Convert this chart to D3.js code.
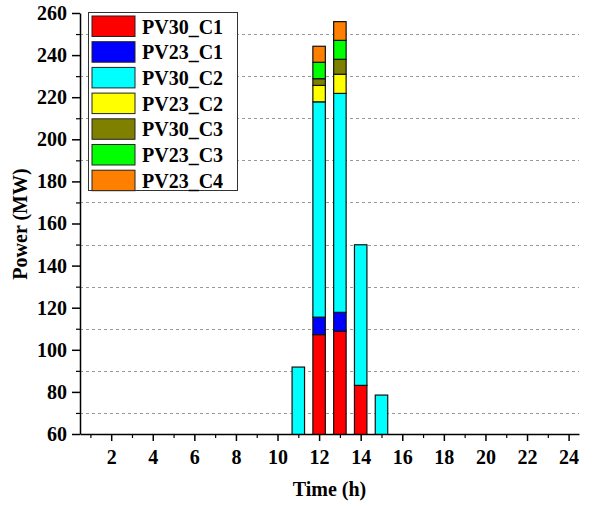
<!DOCTYPE html>
<html>
<head>
<meta charset="utf-8">
<script src="https://cdn.jsdelivr.net/npm/d3@7"></script>
<style>
  body { margin: 0; background: #fff; }
  svg text { font-family: "Liberation Serif", "Times New Roman", serif; font-weight: bold; }
</style>
</head>
<body>
<svg id="svg" width="606" height="508"></svg>
<script>
// data
var hours = d3.range(1, 25);
var seriesNames = ['PV30_C1', 'PV23_C1', 'PV30_C2', 'PV23_C2', 'PV30_C3', 'PV23_C3', 'PV23_C4'];
var colors = ['#ff0000', '#0000ff', '#00ffff', '#ffff00', '#808000', '#00ff00', '#ff8000'];
//               1 2 3 4 5 6 7 8 9 10 11    12     13    14    15  16 ...
var PV30_C1 = [0,0,0,0,0,0,0,0,0,0, 0,    107.2, 108.8, 83.1, 0,   0,0,0,0,0,0,0,0,0];
var PV23_C1 = [0,0,0,0,0,0,0,0,0,0, 0,    8.3,   9.0,   0,    0,   0,0,0,0,0,0,0,0,0];
var PV30_C2 = [0,0,0,0,0,0,0,0,0,0, 91.8, 102.3, 104.0, 66.8, 78.5,0,0,0,0,0,0,0,0,0];
var PV23_C2 = [0,0,0,0,0,0,0,0,0,0, 0,    7.8,   9.1,   0,    0,   0,0,0,0,0,0,0,0,0];
var PV30_C3 = [0,0,0,0,0,0,0,0,0,0, 0,    3.2,   7.1,   0,    0,   0,0,0,0,0,0,0,0,0];
var PV23_C3 = [0,0,0,0,0,0,0,0,0,0, 0,    7.8,   9.0,   0,    0,   0,0,0,0,0,0,0,0,0];
var PV23_C4 = [0,0,0,0,0,0,0,0,0,0, 0,    7.6,   8.9,   0,    0,   0,0,0,0,0,0,0,0,0];
var seriesData = [PV30_C1, PV23_C1, PV30_C2, PV23_C2, PV30_C3, PV23_C3, PV23_C4];
var yTicks = [60, 80, 100, 120, 140, 160, 180, 200, 220, 240, 260];
var yMinor = [70, 90, 110, 130, 150, 170, 190, 210, 230, 250];
var xTicks = [2, 4, 6, 8, 10, 12, 14, 16, 18, 20, 22, 24];
var xMinor = [1, 3, 5, 7, 9, 11, 13, 15, 17, 19, 21, 23];

const mLeft = 80, mRight = 579, mTop = 13, mBottom = 434;

var svg = d3.select('#svg');

var table = hours.map(function(h, i) {
  var row = { hour: h };
  seriesNames.forEach(function(s, k) { row[s] = seriesData[k][i]; });
  return row;
});

var xScale = d3.scaleLinear().domain([0.5, 24.5]).range([mLeft, mRight]);
var yScale = d3.scaleLinear().domain([60, 260]).range([mBottom, mTop]);

// grid (minor, dashed)
svg.append('g')
  .selectAll('line')
  .data(yMinor)
  .enter()
  .append('line')
  .attr('x1', mLeft)
  .attr('x2', mRight)
  .attr('y1', function(d) { return Math.round(yScale(d)) + 0.5; })
  .attr('y2', function(d) { return Math.round(yScale(d)) + 0.5; })
  .style('stroke', '#999')
  .style('stroke-width', 1)
  .style('stroke-dasharray', '3,3');

svg.append('defs').append('clipPath').attr('id', 'plot')
  .append('rect').attr('x', mLeft).attr('y', 0).attr('width', mRight - mLeft).attr('height', mBottom);

var stack = d3.stack().keys(seriesNames)(table);
var bw = xScale(1.6) - xScale(1);

const chart = svg.append('g').attr('clip-path', 'url(#plot)');
chart.selectAll('g')
  .data(stack)
  .enter()
  .append('g')
  .style('fill', function(d, i) { return colors[i]; })
  .selectAll('rect')
  .data(function(d) { return d.filter(function(p) { return p[1] - p[0] > 0; }); })
  .enter()
  .append('rect')
  .attr('x', function(p) { return xScale(p.data.hour) - bw / 2; })
  .attr('y', function(p) { return yScale(p[1]); })
  .attr('width', bw)
  .attr('height', function(p) { return yScale(p[0]) - yScale(p[1]); })
  .style('stroke', '#111')
  .style('stroke-width', 1.2);

// y axis
svg.append('g')
  .attr('transform', 'translate(' + mLeft + ',0)')
  .call(d3.axisLeft(yScale).tickValues(yTicks).tickSize(8).tickSizeOuter(0).tickPadding(5))
  .call(function(g) {
    g.select('.domain').style('stroke-width', 1.5);
    g.selectAll('.tick line').style('stroke-width', 1.5);
    g.selectAll('text').style('font-size', '20px').style('fill', '#000');
  });
svg.append('g')
  .attr('transform', 'translate(' + mLeft + ',0)')
  .call(d3.axisLeft(yScale).tickValues(yMinor).tickSize(4).tickFormat(''))
  .call(function(g) {
    g.select('.domain').remove();
    g.selectAll('.tick line').style('stroke-width', 1.2);
  });

// x axis
svg.append('g')
  .attr('transform', 'translate(0,' + mBottom + ')')
  .call(d3.axisBottom(xScale).tickValues(xTicks).tickSize(7).tickSizeOuter(0).tickPadding(9))
  .call(function(g) {
    g.select('.domain').style('stroke-width', 1.5);
    g.selectAll('.tick line').style('stroke-width', 1.5);
    g.selectAll('text').style('font-size', '20px').style('fill', '#000');
  });
svg.append('g')
  .attr('transform', 'translate(0,' + mBottom + ')')
  .call(d3.axisBottom(xScale).tickValues(xMinor).tickSize(4).tickFormat(''))
  .call(function(g) {
    g.select('.domain').remove();
    g.selectAll('.tick line').style('stroke-width', 1.2);
  });

// axis titles
svg.append('text')
  .attr('x', (mLeft + mRight) / 2)
  .attr('y', 496)
  .attr('text-anchor', 'middle')
  .style('font-size', '20px')
  .text('Time (h)');

svg.append('text')
  .attr('transform', 'translate(27,224) rotate(-90)')
  .attr('text-anchor', 'middle')
  .style('font-size', '20px')
  .text('Power (MW)');

// legend
var legend = svg.append('g');
legend.append('rect')
  .attr('x', 88.5).attr('y', 12.5).attr('width', 149).attr('height', 178)
  .style('fill', '#fff').style('stroke', '#333').style('stroke-width', 1);
var items = legend.selectAll('g.item')
  .data(seriesNames)
  .enter()
  .append('g')
  .attr('transform', function(d, i) { return 'translate(92,' + (16 + i * 25.7) + ')'; });
items.append('rect')
  .attr('width', 43).attr('height', 20.5)
  .style('fill', function(d, i) { return colors[i]; })
  .style('stroke', '#222').style('stroke-width', 1);
items.append('text')
  .attr('x', 50).attr('y', 17.5)
  .style('font-size', '20px')
  .text(function(d) { return d; });
</script>
</body>
</html>
